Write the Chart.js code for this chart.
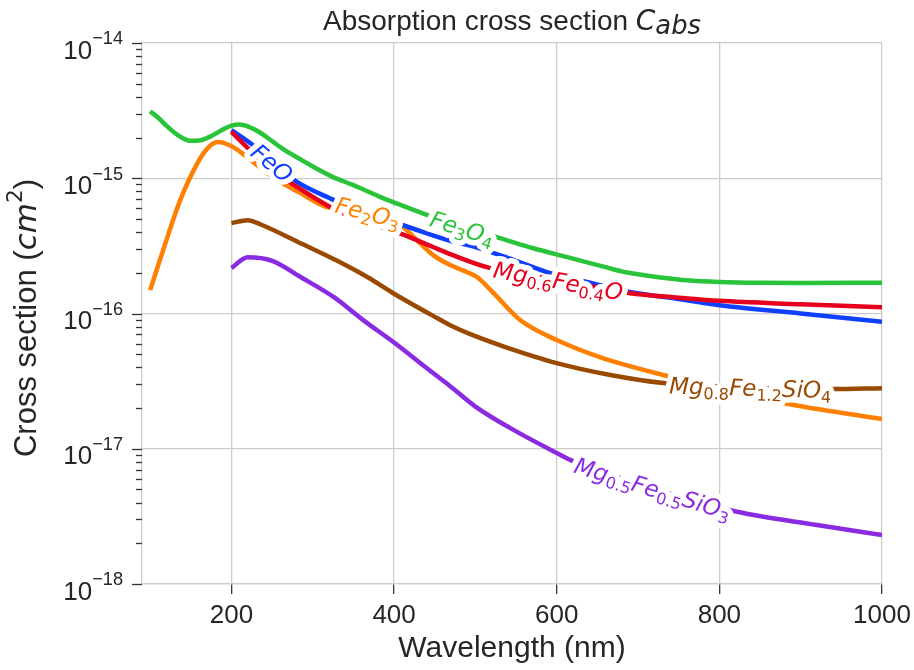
<!DOCTYPE html>
<html>
<head>
<meta charset="utf-8">
<title>Absorption cross section</title>
<script src="https://cdn.jsdelivr.net/npm/chart.js@4.4.1/dist/chart.umd.min.js"></script>
<style>
  html, body { margin: 0; padding: 0; background: #fff; }
</style>
</head>
<body>
<canvas id="absChart" width="914" height="670"></canvas>
<script>
// wavelength (nm) / absorption cross section (cm^2) per material
const feoWl = [200, 223, 250, 281, 326, 350, 387, 408, 469, 500, 550, 592, 640, 690, 750, 800, 900, 1000];
const feoAbs = [2.27e-15, 1.82e-15, 1.3e-15, 9.36e-16, 6.89e-16, 5.9e-16, 4.95e-16, 4.55e-16, 3.45e-16, 3.1e-16, 2.45e-16, 1.99e-16, 1.7e-16, 1.44e-16, 1.28e-16, 1.15e-16, 1.0e-16, 8.68e-17];

const fe2o3Wl = [100, 116, 137, 158, 170, 183, 199, 215, 235, 255, 285, 318, 368, 408, 428, 448, 469, 490, 502, 522, 555, 600, 653, 731, 800, 878, 1000];
const fe2o3Abs = [1.49e-16, 2.94e-16, 6.89e-16, 1.29e-15, 1.65e-15, 1.85e-15, 1.74e-15, 1.5e-15, 1.2e-15, 9.8e-16, 7.76e-16, 6.1e-16, 5.6e-16, 4.5e-16, 3.49e-16, 2.7e-16, 2.28e-16, 2.02e-16, 1.86e-16, 1.42e-16, 8.94e-17, 6.36e-17, 4.76e-17, 3.51e-17, 2.8e-17, 2.18e-17, 1.66e-17];

const fe3o4Wl = [100, 110, 120, 130, 140, 150, 160, 175, 190, 200, 210, 220, 235, 250, 265, 285, 300, 325, 350, 387, 408, 450, 485, 530, 570, 613, 660, 680, 700, 730, 760, 800, 850, 900, 1000];
const fe3o4Abs = [3.13e-15, 2.8e-15, 2.45e-15, 2.17e-15, 1.98e-15, 1.89e-15, 1.9e-15, 2.05e-15, 2.3e-15, 2.45e-15, 2.5e-15, 2.42e-15, 2.18e-15, 1.88e-15, 1.62e-15, 1.38e-15, 1.22e-15, 1.02e-15, 8.9e-16, 7.1e-16, 6.35e-16, 5.1e-16, 4.28e-16, 3.61e-16, 3.05e-16, 2.61e-16, 2.2e-16, 2.05e-16, 1.95e-16, 1.84e-16, 1.76e-16, 1.71e-16, 1.685e-16, 1.68e-16, 1.69e-16];

const mgfeoWl = [200, 223, 250, 281, 322, 360, 408, 448, 469, 514, 560, 602, 650, 690, 750, 800, 900, 1000];
const mgfeoAbs = [2.2e-15, 1.61e-15, 1.15e-15, 8.6e-16, 6.1e-16, 4.85e-16, 3.9e-16, 3.1e-16, 2.75e-16, 2.2e-16, 1.95e-16, 1.75e-16, 1.56e-16, 1.41e-16, 1.31e-16, 1.24e-16, 1.17e-16, 1.11e-16];

const olivineWl = [200, 220, 236, 285, 330, 367, 400, 448, 469, 500, 535, 600, 666, 731, 800, 870, 940, 1000];
const olivineAbs = [4.66e-16, 4.9e-16, 4.55e-16, 3.31e-16, 2.45e-16, 1.86e-16, 1.4e-16, 9.6e-17, 8.2e-17, 6.8e-17, 5.7e-17, 4.3e-17, 3.51e-17, 3.06e-17, 2.88e-17, 2.8e-17, 2.76e-17, 2.8e-17];

const pyroxeneWl = [200, 220, 250, 285, 326, 362, 400, 440, 469, 500, 543, 600, 620, 718, 822, 920, 1000];
const pyroxeneAbs = [2.17e-16, 2.6e-16, 2.45e-16, 1.86e-16, 1.32e-16, 8.94e-17, 6.1e-17, 3.95e-17, 2.9e-17, 2.05e-17, 1.42e-17, 9.3e-18, 8.1e-18, 5.1e-18, 3.42e-18, 2.73e-18, 2.3e-18];

const xTicks = [200, 400, 600, 800, 1000];
const yDecades = [-18, -17, -16, -15, -14];

const seriesList = [
    { key: 'mgfeo', wl: mgfeoWl, val: mgfeoAbs, color: '#e6001e' },
    { key: 'feo', wl: feoWl, val: feoAbs, color: '#1040ff' },
    { key: 'fe2o3', wl: fe2o3Wl, val: fe2o3Abs, color: '#ff7f00' },
    { key: 'fe3o4', wl: fe3o4Wl, val: fe3o4Abs, color: '#29c43a' },
    { key: 'olivine', wl: olivineWl, val: olivineAbs, color: '#9a4a00' },
    { key: 'pyroxene', wl: pyroxeneWl, val: pyroxeneAbs, color: '#8a2be2' }
];

// inline labels: series key, wavelength where the label sits, formula pieces
const lineLabels = [
    { key: 'feo', at: 250, parts: [['FeO', 'it']] },
    { key: 'fe2o3', at: 368, parts: [['Fe', 'it'], ['2', 'sub'], ['O', 'it'], ['3', 'sub']] },
    { key: 'fe3o4', at: 484, parts: [['Fe', 'it'], ['3', 'sub'], ['O', 'it'], ['4', 'sub']] },
    { key: 'mgfeo', at: 602, parts: [['Mg', 'it'], ['0.6', 'sub'], ['Fe', 'it'], ['0.4', 'sub'], ['O', 'it']] },
    { key: 'olivine', at: 838, parts: [['Mg', 'it'], ['0.8', 'sub'], ['Fe', 'it'], ['1.2', 'sub'], ['SiO', 'it'], ['4', 'sub']] },
    { key: 'pyroxene', at: 718, parts: [['Mg', 'it'], ['0.5', 'sub'], ['Fe', 'it'], ['0.5', 'sub'], ['SiO', 'it'], ['3', 'sub']] }
];

const TEXT = '#262626';
const SANS = '"Liberation Sans", Arial, sans-serif';

function fontOf(style, size) {
    const small = (size * 0.7).toFixed(1);
    switch (style) {
        case 'rm': return `${size}px ${SANS}`;
        case 'rmsup': return `${small}px ${SANS}`;
        case 'it': return `italic ${size}px "DejaVu Sans"`;
        case 'itlow': return `italic ${(size * 0.92).toFixed(1)}px "DejaVu Sans"`;
        default: return `${small}px "DejaVu Sans"`;
    }
}

function shiftOf(style, size) {
    if (style === 'sub') return 0.2 * size;
    if (style === 'itlow') return 0.13 * size;
    if (style === 'sup') return -0.45 * size;
    if (style === 'rmsup') return -0.54 * size;
    return 0;
}

// draws a run of mixed-style text (mathtext-like) with optional white halo
function drawParts(ctx, parts, x, y, size, align, color, halo) {
    let w = 0;
    const items = parts.map(([t, st]) => {
        ctx.font = fontOf(st, size);
        const it = { t, st, x: w };
        w += ctx.measureText(t).width;
        return it;
    });
    const x0 = align === 'center' ? x - w / 2 : align === 'right' ? x - w : x;
    ctx.textAlign = 'left';
    ctx.textBaseline = 'alphabetic';
    if (halo) {
        ctx.strokeStyle = '#ffffff';
        ctx.lineWidth = halo;
        ctx.lineJoin = 'round';
        items.forEach(it => {
            ctx.font = fontOf(it.st, size);
            ctx.strokeText(it.t, x0 + it.x, y + shiftOf(it.st, size));
        });
    }
    ctx.fillStyle = color;
    items.forEach(it => {
        ctx.font = fontOf(it.st, size);
        ctx.fillText(it.t, x0 + it.x, y + shiftOf(it.st, size));
    });
}

// log-linear lookup along one series
function valueAt(wl, wls, vals) {
    if (wl <= wls[0]) return vals[0];
    for (let i = 1; i < wls.length; i++) {
        if (wl <= wls[i]) {
            const f = (wl - wls[i - 1]) / (wls[i] - wls[i - 1]);
            return Math.pow(10, Math.log10(vals[i - 1]) + f * (Math.log10(vals[i]) - Math.log10(vals[i - 1])));
        }
    }
    return vals[vals.length - 1];
}

const decorPlugin = {
    id: 'decor',
    afterDatasetsDraw(chart) {
        const ctx = chart.ctx, xs = chart.scales.x, ys = chart.scales.y;
        const size = 23;
        ctx.save();
        lineLabels.forEach(lab => {
            const s = seriesList.find(d => d.key === lab.key);
            const px = xs.getPixelForValue(lab.at);
            const py = ys.getPixelForValue(valueAt(lab.at, s.wl, s.val));
            const ax = xs.getPixelForValue(lab.at - 25), ay = ys.getPixelForValue(valueAt(lab.at - 25, s.wl, s.val));
            const bx = xs.getPixelForValue(lab.at + 25), by = ys.getPixelForValue(valueAt(lab.at + 25, s.wl, s.val));
            ctx.save();
            ctx.translate(px, py);
            ctx.rotate(Math.atan2(by - ay, bx - ax));
            drawParts(ctx, lab.parts, 0, 0.36 * size, size, 'center', s.color, 11);
            ctx.restore();
        });
        ctx.restore();
    },
    afterDraw(chart) {
        const ctx = chart.ctx, xs = chart.scales.x, ys = chart.scales.y;
        const area = chart.chartArea;
        ctx.save();

        // y tick marks: decades long, 2..9 short
        ctx.strokeStyle = '#333333';
        ctx.lineWidth = 1.3;
        yDecades.forEach(e => {
            const top = e === yDecades[yDecades.length - 1];
            for (let k = 1; k <= (top ? 1 : 9); k++) {
                const y = Math.round(ys.getPixelForValue(k * Math.pow(10, e))) + 0.5;
                const len = k === 1 ? 10 : 6;
                ctx.beginPath();
                ctx.moveTo(area.left - len, y);
                ctx.lineTo(area.left, y);
                ctx.stroke();
            }
        });

        // y tick labels 10^n
        yDecades.forEach(e => {
            const y = ys.getPixelForValue(Math.pow(10, e));
            drawParts(ctx, [['10', 'rm'], ['\u2212' + Math.abs(e), 'rmsup']], area.left - 19, y + 15.5, 26, 'right', TEXT);
        });

        // x tick labels
        ctx.font = `26px ${SANS}`;
        ctx.fillStyle = TEXT;
        ctx.textAlign = 'center';
        ctx.textBaseline = 'alphabetic';
        xTicks.forEach(v => ctx.fillText(String(v), xs.getPixelForValue(v), 623));

        // axis titles
        const midX = (area.left + area.right) / 2;
        ctx.font = `30px ${SANS}`;
        ctx.fillText('Wavelength (nm)', midX, 657);

        ctx.save();
        ctx.translate(36, 318);
        ctx.rotate(-Math.PI / 2);
        drawParts(ctx, [['Cross section (', 'rm'], ['cm', 'it'], ['2', 'sup'], [')', 'rm']], 0, 0, 31, 'center', TEXT);
        ctx.restore();

        // chart title
        drawParts(ctx, [['Absorption cross section ', 'rm'], ['C', 'it'], ['abs', 'itlow']], midX, 30, 28, 'center', TEXT);
        ctx.restore();
    }
};

new Chart(document.getElementById('absChart'), {
    type: 'line',
    data: {
        datasets: seriesList.map((s, i) => ({
            label: s.key,
            data: s.wl.map((w, j) => ({ x: w, y: s.val[j] })),
            borderColor: s.color,
            backgroundColor: s.color,
            borderWidth: 4.5,
            pointRadius: 0,
            fill: false,
            cubicInterpolationMode: 'monotone',
            borderCapStyle: 'butt',
            order: i
        }))
    },
    options: {
        responsive: false,
        animation: false,
        devicePixelRatio: 1,
        layout: { padding: { top: 43, right: 32, left: 0, bottom: 0 } },
        plugins: { legend: { display: false }, tooltip: { enabled: false }, title: { display: false } },
        scales: {
            x: {
                type: 'linear',
                min: 90,
                max: 1000,
                afterBuildTicks: scale => { scale.ticks = xTicks.map(v => ({ value: v })); },
                afterFit: scale => { scale.height = 86; },
                ticks: { display: false },
                grid: { color: '#cccccc', lineWidth: 1.3, drawTicks: true, tickLength: 10, tickColor: '#333333', tickWidth: 1.3 },
                border: { color: '#cccccc', width: 1.3 }
            },
            y: {
                type: 'logarithmic',
                min: 1e-18,
                max: 1e-14,
                afterBuildTicks: scale => { scale.ticks = yDecades.map(e => ({ value: Math.pow(10, e) })); },
                afterFit: scale => { scale.width = 142; },
                ticks: { display: false },
                grid: { color: '#cccccc', lineWidth: 1.3, drawTicks: false },
                border: { color: '#cccccc', width: 1.3 }
            }
        }
    },
    plugins: [decorPlugin]
});
</script>
</body>
</html>
